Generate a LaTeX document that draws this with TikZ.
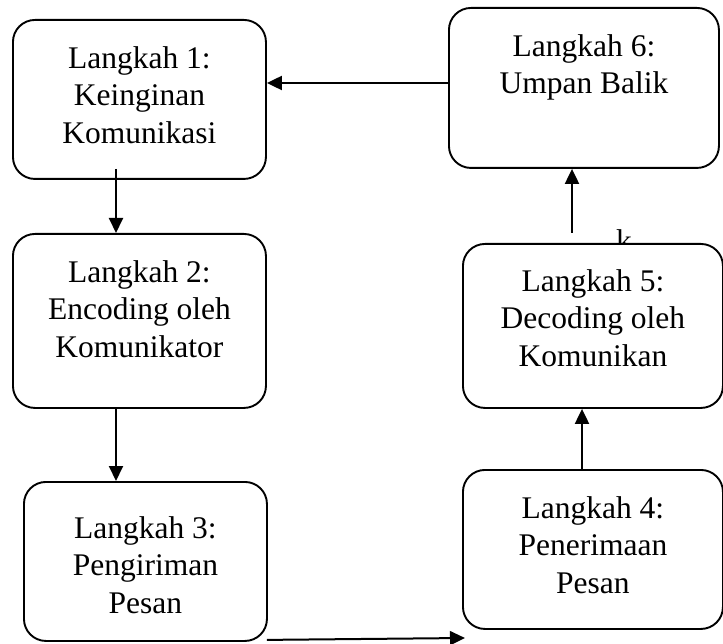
\documentclass[tikz,border=0pt]{standalone}
\usepackage{fontspec}
\setmainfont{Liberation Serif}
\usetikzlibrary{arrows.meta,calc}
\tikzset{
  box/.style={draw, line width=1.9pt, rounded corners=22pt, fill=white, anchor=north west, inner sep=0pt},
  lbl/.style={anchor=north, align=center, inner sep=0pt, font=\fontsize{31.5}{37.5}\selectfont},
  arr/.style={line width=2pt, -{Triangle[length=15pt,width=14pt]}},
}
\begin{document}
\begin{tikzpicture}[x=1pt,y=-1pt]
\useasboundingbox (0,0) rectangle (723,644);
% stray letter partly hidden behind box 5
\node[anchor=base, inner sep=0pt, font=\fontsize{31.5}{37.5}\selectfont] (stray) at (624,252) {k};
\node[box, minimum width=253pt, minimum height=159pt] (b1) at (12,19) {};
\node[box, minimum width=253pt, minimum height=174pt] (b2) at (12,233) {};
\node[box, minimum width=243pt, minimum height=159pt] (b3) at (23,481) {};
\node[box, minimum width=260pt, minimum height=159pt] (b4) at (462,469) {};
\node[box, minimum width=260pt, minimum height=164pt] (b5) at (462,243) {};
\node[box, minimum width=270pt, minimum height=160pt] (b6) at (448,7) {};
\node[lbl] (t1) at ($(b1.north)+(0,27)$) {Langkah 1:\\Keinginan\\Komunikasi};
\node[lbl] (t2) at ($(b2.north)+(0,27)$) {Langkah 2:\\Encoding oleh\\Komunikator};
\node[lbl] (t3) at ($(b3.north)+(0,35)$) {Langkah 3:\\Pengiriman\\Pesan};
\node[lbl] (t4) at ($(b4.north)+(0,27)$) {Langkah 4:\\Penerimaan\\Pesan};
\node[lbl] (t5) at ($(b5.north)+(0,26)$) {Langkah 5:\\Decoding oleh\\Komunikan};
\node[lbl] (t6) at ($(b6.north)+(0,27)$) {Langkah 6:\\Umpan Balik};
% connectors
\draw[arr] (b6.west |- 0,83) -- (b1.east |- 0,83);
\draw[arr] ($(b1.south -| 116,0)+(0,-11)$) -- (b2.north -| 116,0);
\draw[arr] (b2.south -| 116,0) -- (b3.north -| 116,0);
\draw[arr] ($(b3.south east)+(-1,-2)$) -- ([xshift=3pt]b4.west |- 0,638);
\draw[arr] (b4.north -| 582,0) -- (b5.south -| 582,0);
\draw[arr] ($(b5.north -| 572,0)+(0,-10)$) -- (b6.south -| 572,0);
\end{tikzpicture}
\end{document}
